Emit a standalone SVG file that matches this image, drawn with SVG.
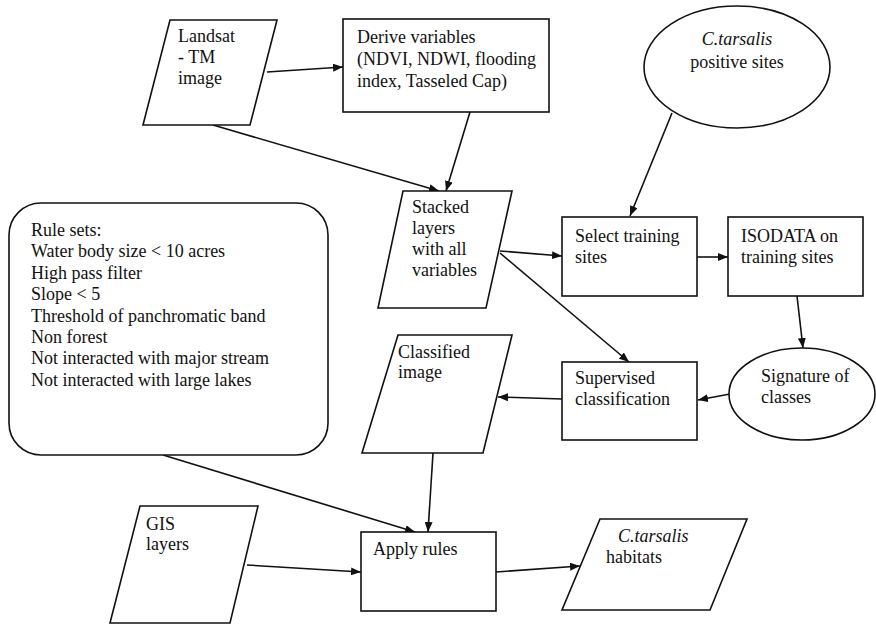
<svg xmlns="http://www.w3.org/2000/svg" width="876" height="626" viewBox="0 0 876 626">
<defs>
<style>
.s{fill:#fff;stroke:#111;stroke-width:1.6}
.t{font-family:"Liberation Serif","Times New Roman",serif;font-size:18px;fill:#111}
.i{font-style:italic}
.c{stroke:#111;stroke-width:1.6;fill:none;marker-end:url(#ah)}
</style>
<marker id="ah" viewBox="0 0 10 8" refX="10" refY="4" markerWidth="10" markerHeight="8" markerUnits="userSpaceOnUse" orient="auto">
<path d="M0,0 L10,4 L0,8 Z" fill="#111"/>
</marker>
</defs>
<rect width="876" height="626" fill="#fff"/>
<g id="connectors">
<line class="c" x1="267" y1="72" x2="343" y2="67"/>
<line class="c" x1="213" y1="125" x2="439" y2="191"/>
<line class="c" x1="470" y1="112" x2="446" y2="191"/>
<line class="c" x1="672" y1="113" x2="630" y2="216"/>
<line class="c" x1="500" y1="251" x2="562" y2="256"/>
<line class="c" x1="500" y1="253" x2="629" y2="362"/>
<line class="c" x1="697" y1="257" x2="728" y2="257"/>
<line class="c" x1="797" y1="296" x2="803" y2="348"/>
<line class="c" x1="730" y1="394" x2="698" y2="400"/>
<line class="c" x1="562" y1="399" x2="498" y2="397"/>
<line class="c" x1="163" y1="455" x2="415" y2="532"/>
<line class="c" x1="433" y1="453" x2="428" y2="532"/>
<line class="c" x1="247" y1="565" x2="361" y2="572"/>
<line class="c" x1="496" y1="572" x2="580" y2="566"/>
</g>
<g id="landsat">
<polygon class="s" points="170,20 277,20 250,125 143,125"/>
<text class="t"><tspan x="178" y="42">Landsat</tspan><tspan x="178" y="63">- TM</tspan><tspan x="178" y="84">image</tspan></text>
</g>
<g id="derive">
<rect class="s" x="343" y="19" width="206" height="93"/>
<text class="t"><tspan x="357" y="43">Derive variables</tspan><tspan x="357" y="65">(NDVI, NDWI, flooding</tspan><tspan x="357" y="87">index, Tasseled Cap)</tspan></text>
</g>
<g id="positive-sites">
<ellipse class="s" cx="737" cy="67" rx="93" ry="61"/>
<text class="t" text-anchor="middle"><tspan class="i" x="737" y="45">C.tarsalis</tspan><tspan x="737" y="68">positive sites</tspan></text>
</g>
<g id="stacked">
<polygon class="s" points="403,191 512,191 486,308 378,308"/>
<text class="t"><tspan x="412" y="213">Stacked</tspan><tspan x="412" y="234">layers</tspan><tspan x="412" y="255">with all</tspan><tspan x="412" y="276">variables</tspan></text>
</g>
<g id="rule-sets">
<rect class="s" x="9" y="203" width="319" height="252" rx="32" ry="32"/>
<text class="t"><tspan x="31" y="236">Rule sets:</tspan><tspan x="31" y="257.4">Water body size &lt; 10 acres</tspan><tspan x="31" y="278.8">High pass filter</tspan><tspan x="31" y="300.2">Slope &lt; 5</tspan><tspan x="31" y="321.6">Threshold of panchromatic band</tspan><tspan x="31" y="343">Non forest</tspan><tspan x="31" y="364.4">Not interacted with major stream</tspan><tspan x="31" y="385.8">Not interacted with large lakes</tspan></text>
</g>
<g id="select-training">
<rect class="s" x="562" y="217" width="135" height="79"/>
<text class="t"><tspan x="575" y="242">Select training</tspan><tspan x="575" y="263">sites</tspan></text>
</g>
<g id="isodata">
<rect class="s" x="728" y="217" width="135" height="79"/>
<text class="t"><tspan x="741" y="242">ISODATA on</tspan><tspan x="741" y="263">training sites</tspan></text>
</g>
<g id="signature">
<ellipse class="s" cx="802" cy="394" rx="73" ry="46"/>
<text class="t"><tspan x="761" y="382">Signature of</tspan><tspan x="761" y="403">classes</tspan></text>
</g>
<g id="supervised">
<rect class="s" x="562" y="362" width="135" height="78"/>
<text class="t"><tspan x="575" y="384">Supervised</tspan><tspan x="575" y="405">classification</tspan></text>
</g>
<g id="classified">
<polygon class="s" points="398,335 512,335 483,453 362,453"/>
<text class="t"><tspan x="398" y="358">Classified</tspan><tspan x="398" y="378">image</tspan></text>
</g>
<g id="gis">
<polygon class="s" points="140,506 258,506 230,623 110,623"/>
<text class="t"><tspan x="146" y="530">GIS</tspan><tspan x="146" y="550">layers</tspan></text>
</g>
<g id="apply-rules">
<rect class="s" x="361" y="532" width="135" height="79"/>
<text class="t" x="373" y="555">Apply rules</text>
</g>
<g id="habitats">
<polygon class="s" points="600,519 747,519 710,610 562,610"/>
<text class="t"><tspan class="i" x="618" y="542">C.tarsalis</tspan><tspan x="606" y="563">habitats</tspan></text>
</g>
</svg>
